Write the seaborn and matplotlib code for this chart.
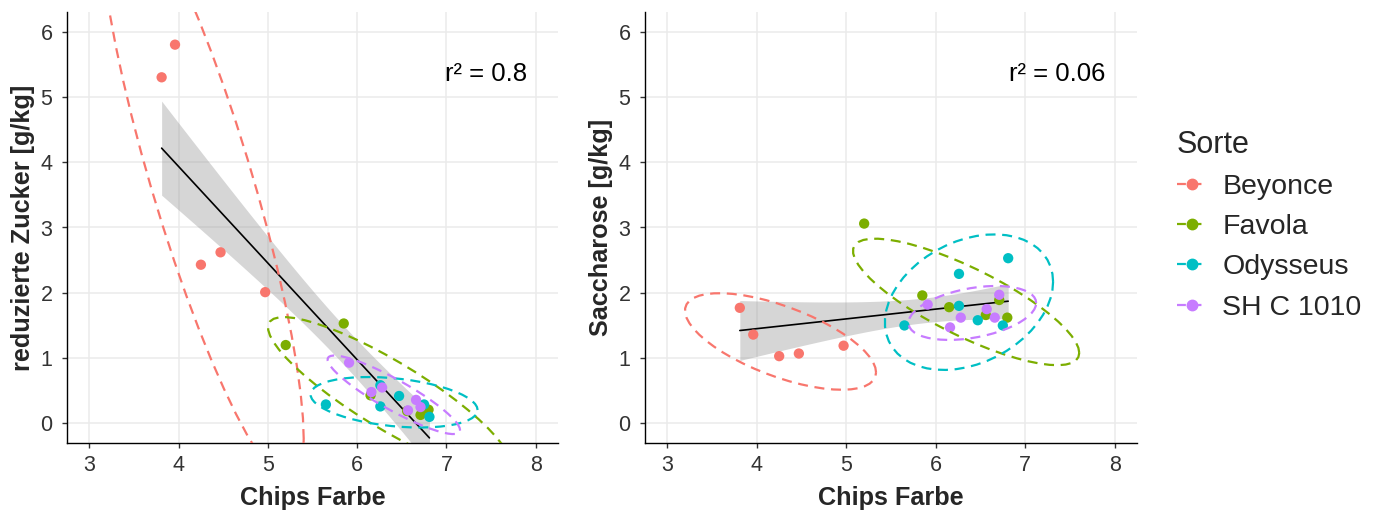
import math
import numpy as np
import pandas as pd
import matplotlib
matplotlib.use("Agg")
import matplotlib.pyplot as plt
from matplotlib.lines import Line2D
import seaborn as sns

# ---------------- data ----------------
sorten = ["Beyonce", "Favola", "Odysseus", "SH C 1010"]
farben = ["#F8766D", "#7CAE00", "#00BFC4", "#C77CFF"]

beyonce_farbe = [3.81, 3.96, 4.25, 4.47, 4.97]
beyonce_red = [5.30, 5.80, 2.43, 2.62, 2.01]
beyonce_sac = [1.77, 1.36, 1.03, 1.07, 1.19]

favola_farbe = [5.20, 5.85, 6.15, 6.56, 6.71, 6.80]
favola_red = [1.20, 1.53, 0.43, 0.19, 0.13, 0.21]
favola_sac = [3.06, 1.96, 1.78, 1.66, 1.89, 1.62]

odysseus_farbe = [5.65, 6.26, 6.26, 6.47, 6.75, 6.81]
odysseus_red = [0.29, 0.585, 0.26, 0.42, 0.29, 0.10]
odysseus_sac = [1.50, 2.29, 1.80, 1.58, 1.50, 2.53]

shc_farbe = [5.91, 6.16, 6.28, 6.57, 6.66, 6.71]
shc_red = [0.93, 0.48, 0.55, 0.20, 0.36, 0.25]
shc_sac = [1.82, 1.47, 1.62, 1.75, 1.62, 1.97]

r2_labels = ["0.8", "0.06"]
x_ticks = [3, 4, 5, 6, 7, 8]
y_ticks = [0, 1, 2, 3, 4, 5, 6]

rows = []
for s, fx, rd, sc in zip(sorten,
                         [beyonce_farbe, favola_farbe, odysseus_farbe, shc_farbe],
                         [beyonce_red, favola_red, odysseus_red, shc_red],
                         [beyonce_sac, favola_sac, odysseus_sac, shc_sac]):
    for a, b, c in zip(fx, rd, sc):
        rows.append({"Sorte": s, "Farbe": a, "Red": b, "Sac": c})
df = pd.DataFrame(rows)


# ---------------- helpers ----------------
def cov_trob(X, nu=5, maxit=25, tol=0.01):
    n, p = X.shape
    wt = np.ones(n)
    loc = X.mean(axis=0)
    w = np.sqrt(wt)
    Xc = X - loc
    for _ in range(maxit):
        w0 = w
        Xc = X - loc
        _, d, vt = np.linalg.svd(np.sqrt(w / w.sum())[:, None] * Xc, full_matrices=False)
        wX = Xc @ vt.T @ np.diag(1.0 / d)
        Q = (wX ** 2).sum(axis=1)
        w = (wt * (nu + p)) / (nu + Q)
        loc = (w[:, None] * X).sum(axis=0) / w.sum()
        if np.all(np.abs(w - w0) < tol):
            break
    sX = np.sqrt(w)[:, None] * Xc
    cov = sX.T @ sX / wt.sum()
    return cov, loc


def ellipse_pts(x, y, level=0.9, segments=51):
    X = np.column_stack([x, y])
    n = X.shape[0]
    cov, center = cov_trob(X)
    dfd = n - 1
    fq = dfd / 2.0 * ((1 - level) ** (-2.0 / dfd) - 1)
    radius = np.sqrt(2 * fq)
    ang = np.linspace(0, 2 * np.pi, segments + 1)
    circ = np.column_stack([np.cos(ang), np.sin(ang)])
    L = np.linalg.cholesky(cov)
    pts = center + radius * circ @ L.T
    return pts[:, 0], pts[:, 1]


def t_quantile(p, dof):
    c = math.gamma((dof + 1) / 2) / (math.sqrt(dof * math.pi) * math.gamma(dof / 2))

    def cdf(t):
        g = np.linspace(0, t, 4001)
        f = c * (1 + g ** 2 / dof) ** (-(dof + 1) / 2)
        return 0.5 + np.trapezoid(f, g)

    lo, hi = 0.0, 20.0
    for _ in range(60):
        mid = (lo + hi) / 2
        if cdf(mid) < p:
            lo = mid
        else:
            hi = mid
    return (lo + hi) / 2


def lm_band(x, y, grid, level=0.95):
    x = np.asarray(x, float)
    y = np.asarray(y, float)
    n = len(x)
    b1, b0 = np.polyfit(x, y, 1)
    resid = y - (b0 + b1 * x)
    s = np.sqrt((resid ** 2).sum() / (n - 2))
    xm = x.mean()
    sxx = ((x - xm) ** 2).sum()
    se = s * np.sqrt(1 / n + (grid - xm) ** 2 / sxx)
    tq = t_quantile(0.5 + level / 2, n - 2)
    fit = b0 + b1 * grid
    return fit - tq * se, fit + tq * se


# ---------------- style ----------------
sns.set_theme(style="whitegrid")
plt.rcParams["font.family"] = ["Liberation Sans", "DejaVu Sans"]
plt.rcParams.update({
    "grid.color": "#ebebeb",
    "grid.linewidth": 1.1,
    "axes.edgecolor": "black",
    "axes.linewidth": 1.0,
    "xtick.color": "#333333",
    "ytick.color": "#333333",
    "xtick.major.size": 3.5,
    "ytick.major.size": 3.5,
    "xtick.major.width": 1.0,
    "ytick.major.width": 1.0,
    "xtick.bottom": True,
    "ytick.left": True,
})

W, H = 1387, 514
fig = plt.figure(figsize=(W / 100, H / 100), dpi=100)
ax1 = fig.add_axes([67 / W, (H - 443) / H, 491 / W, 431 / H])
ax2 = fig.add_axes([645 / W, (H - 443) / H, 492 / W, 431 / H])

panels = [(ax1, "Red", "reduzierte Zucker [g/kg]", r2_labels[0]),
          (ax2, "Sac", "Saccharose [g/kg]", r2_labels[1])]

for ax, col, ylab, r2 in panels:
    grid = np.linspace(df["Farbe"].min(), df["Farbe"].max(), 80)
    lo, hi = lm_band(df["Farbe"], df[col], grid)
    ax.fill_between(grid, lo, hi, color="#999999", alpha=0.4, linewidth=0,
                    zorder=2)
    sns.regplot(data=df, x="Farbe", y=col, ax=ax, scatter=False, ci=None,
                color="black", line_kws={"linewidth": 1.2, "zorder": 3})
    sns.scatterplot(data=df, x="Farbe", y=col, hue="Sorte", hue_order=sorten,
                    palette=farben, s=55, linewidth=0, ax=ax, legend=False,
                    zorder=4)
    for s, c in zip(sorten, farben):
        sub = df[df["Sorte"] == s]
        ex, ey = ellipse_pts(sub["Farbe"].values, sub[col].values)
        ax.plot(ex, ey, color=c, linewidth=1.6, linestyle=(0, (4.5, 3)), zorder=5)
    ax.text(7.9, 5.35, "r² = " + r2, ha="right", va="center", fontsize=18.5,
            color="black")
    ax.set_xlim(2.75, 8.25)
    ax.set_ylim(-0.3, 6.3)
    ax.set_xticks(x_ticks)
    ax.set_yticks(y_ticks)
    ax.grid(True, which="major")
    ax.tick_params(axis="x", labelsize=15.5, pad=5)
    ax.tick_params(axis="y", labelsize=15.5, pad=7)
    for lab in ax.get_xticklabels() + ax.get_yticklabels():
        lab.set_color("#333333")
    for side in ["top", "right"]:
        ax.spines[side].set_visible(False)
    for side in ["left", "bottom"]:
        ax.spines[side].set_color("black")
        ax.spines[side].set_linewidth(1.0)
    ax.set_xlabel("Chips Farbe", fontsize=18.2, fontweight="bold", labelpad=7)
    ax.set_ylabel(ylab, fontsize=18.2, fontweight="bold", labelpad=4)

handles = [Line2D([], [], color=c, marker="o", markersize=7.5, linewidth=1.6,
                  linestyle=(0, (4, 3))) for c in farben]
leg = fig.legend(handles, sorten, title="Sorte", loc="upper left",
                 bbox_to_anchor=(1151 / W, 1 - 104 / H), frameon=False,
                 fontsize=20.5, title_fontsize=22, handlelength=1.1,
                 handletextpad=0.5, labelspacing=0.5)
leg._legend_box.align = "left"

fig.savefig("out.png", dpi=100, facecolor="white")
